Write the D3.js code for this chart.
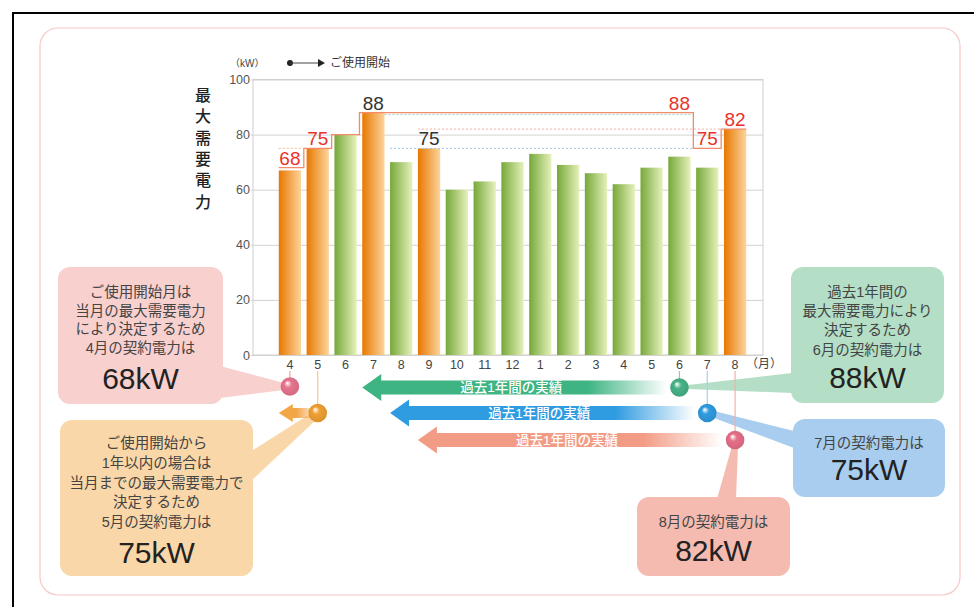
<!doctype html>
<html>
<head>
<meta charset="utf-8">
<script src="https://d3js.org/d3.v7.min.js"></script>
<style>
  body { margin: 0; background: #fff; }
  svg text { font-family: "Liberation Sans", "Noto Sans CJK JP", sans-serif; }
</style>
</head>
<body>
<svg width="974" height="607"></svg>
<script>
// monthly peak demand (kW), Apr of year 1 .. Aug of year 2
var months   = ["4","5","6","7","8","9","10","11","12","1","2","3","4","5","6","7","8"];
var demand   = [67, 75, 80, 88, 70, 75, 60, 63, 70, 73, 69, 66, 62, 68, 72, 68, 82];
var isOrange = [1, 1, 0, 1, 0, 1, 0, 0, 0, 0, 0, 0, 0, 0, 0, 0, 1];
// contract power per month (step line)
var contract = [68, 75, 80, 88, 88, 88, 88, 88, 88, 88, 88, 88, 88, 88, 88, 75, 82];
var yTicks   = [0, 20, 40, 60, 80, 100];
var peakIdx  = [0, 1, 3, 5, 14, 15, 16];
var peakVal  = [68, 75, 88, 75, 88, 75, 82];
var peakRed  = [1, 1, 0, 0, 1, 1, 1];
// "past year" arrows: from month index, to month index
var arrowFrom = [3, 4, 5];
var arrowTo   = [14, 15, 16];
var arrowText = "過去1年間の実績";

var noteLines = [
  ["ご使用開始月は", "当月の最大需要電力", "により決定するため", "4月の契約電力は"],
  ["ご使用開始から", "1年以内の場合は", "当月までの最大需要電力で", "決定するため", "5月の契約電力は"],
  ["過去1年間の", "最大需要電力により", "決定するため", "6月の契約電力は"],
  ["7月の契約電力は"],
  ["8月の契約電力は"]
];
var noteBig = ["68kW", "75kW", "88kW", "75kW", "82kW"];

var svg = d3.select("svg");
var defs = svg.append("defs");

// outer frame
svg.append("line").attr("x1", 12).attr("y1", 13).attr("x2", 974).attr("y2", 13).attr("stroke", "#000").attr("stroke-width", 2);
svg.append("line").attr("x1", 13).attr("y1", 12).attr("x2", 13).attr("y2", 607).attr("stroke", "#000").attr("stroke-width", 2);
svg.append("rect").attr("x", 40).attr("y", 28).attr("width", 920).attr("height", 567).attr("rx", 18)
   .attr("fill", "none").attr("stroke", "#f7c8c8").attr("stroke-width", 1.2);

var plotL = 253, plotR = 763;
var x = d3.scaleBand().domain(d3.range(months.length)).range([276, 749]).paddingInner(0.2).paddingOuter(0.1);
var y = d3.scaleLinear().domain([0, 100]).range([355, 79.5]);
var bw = x.bandwidth(), gap = x.step() - bw;

// gradients
function barGrad(id, c1, c2) {
  var g = defs.append("linearGradient").attr("id", id).attr("x1", 0).attr("x2", 1).attr("y1", 0).attr("y2", 0);
  g.append("stop").attr("offset", 0).attr("stop-color", c1);
  g.append("stop").attr("offset", 1).attr("stop-color", c2);
}
barGrad("gOrange", "#e87800", "#fcd49c");
barGrad("gGreen", "#76a838", "#e6f1bc");

function dotGrad(id, c) {
  var g = defs.append("radialGradient").attr("id", id).attr("cx", "50%").attr("cy", "50%").attr("r", "55%").attr("fx", "35%").attr("fy", "30%");
  g.append("stop").attr("offset", 0).attr("stop-color", "#fff").attr("stop-opacity", 0.8);
  g.append("stop").attr("offset", 0.35).attr("stop-color", c);
  g.append("stop").attr("offset", 1).attr("stop-color", d3.color(c).darker(0.3));
}

// plot frame + grid
svg.append("rect").attr("x", plotL).attr("y", y(100)).attr("width", plotR - plotL).attr("height", y(0) - y(100))
   .attr("fill", "none").attr("stroke", "#cfcfcf");

var yAxis = svg.append("g").attr("transform", "translate(" + plotL + ",0)")
   .call(d3.axisLeft(y).tickValues(yTicks).tickSize(-(plotR - plotL)).tickPadding(3));
yAxis.select(".domain").remove();
yAxis.selectAll("line").attr("stroke", "#d2d2d2").attr("x1", -2);
yAxis.selectAll("text").attr("fill", "#555").style("font-size", "12.5px");

var xAxis = svg.append("g").attr("transform", "translate(0," + y(0) + ")")
   .call(d3.axisBottom(x).tickSize(0).tickPadding(5).tickFormat(function(i) { return months[i]; }));
xAxis.select(".domain").remove();
xAxis.selectAll("text").attr("fill", "#444").style("font-size", "12.5px");
svg.append("text").attr("x", 746).attr("y", 368).attr("fill", "#444").style("font-size", "12px").text("（月）");

// unit + legend
svg.append("text").attr("x", 230).attr("y", 67).attr("fill", "#444").style("font-size", "10px").text("（kW）");
svg.append("circle").attr("cx", 290).attr("cy", 63).attr("r", 3).attr("fill", "#222");
svg.append("line").attr("x1", 290).attr("y1", 63).attr("x2", 318).attr("y2", 63).attr("stroke", "#444");
svg.append("path").attr("d", "M318,59 L325,63 L318,67 Z").attr("fill", "#222");
svg.append("text").attr("x", 330).attr("y", 67).attr("fill", "#333").style("font-size", "12px").text("ご使用開始");

// vertical y title
svg.append("g").selectAll("text").data("最大需要電力".split("")).enter().append("text")
   .attr("x", 203).attr("y", function(d, i) { return 101 + i * 21.3; })
   .attr("text-anchor", "middle").attr("fill", "#222").style("font-size", "16px").style("font-weight", "500")
   .text(function(d) { return d; });

// bars
svg.append("g").selectAll("rect").data(demand).enter().append("rect")
   .attr("x", function(d, i) { return x(i); })
   .attr("y", function(d) { return y(d); })
   .attr("width", bw)
   .attr("height", function(d) { return y(0) - y(d); })
   .attr("fill", function(d, i) { return isOrange[i] ? "url(#gOrange)" : "url(#gGreen)"; });

// dotted reference lines
function dotted(x1, x2, v, c, dy) {
  svg.append("line").attr("x1", x1).attr("x2", x2).attr("y1", y(v) + (dy || 0)).attr("y2", y(v) + (dy || 0))
     .attr("stroke", c).attr("stroke-width", 1).attr("stroke-dasharray", "2,2");
}
dotted(x(0), x(0) + bw, 75, "#f8bf8c");
dotted(x(3) + bw, x(14) + bw + gap / 2, 88, "#9ed3c0", 2);
dotted(x(4), x(15) + bw + gap / 2, 75, "#9cc6ee");
dotted(x(5), x(15) + bw + gap / 2, 82, "#f5aea4");

// contract step line
var stepPts = [];
contract.forEach(function(c, i) {
  stepPts.push([i === 0 ? x(i) : x(i) - gap / 2, y(c)]);
  stepPts.push([i === contract.length - 1 ? x(i) + bw : x(i) + bw + gap / 2, y(c)]);
});
svg.append("path").attr("d", d3.line()(stepPts)).attr("fill", "none").attr("stroke", "#f58a6a").attr("stroke-width", 1.3);

// peak labels
svg.append("g").selectAll("text").data(peakIdx).enter().append("text")
   .attr("x", function(d) { return x(d) + bw / 2; })
   .attr("y", function(d, i) { return y(peakVal[i]) - 3; })
   .attr("text-anchor", "middle").style("font-size", "19px")
   .attr("fill", function(d, i) { return peakRed[i] ? "#e8332b" : "#333"; })
   .text(function(d, i) { return peakVal[i]; });

// callout boxes
function note(k, bx, by, bwid, bht, fill, lineY, step, bigY) {
  var g = svg.append("g");
  g.append("rect").attr("x", bx).attr("y", by).attr("width", bwid).attr("height", bht).attr("rx", 12).attr("fill", fill);
  noteLines[k].forEach(function(t, j) {
    g.append("text").attr("x", bx + bwid / 2).attr("y", lineY + j * step).attr("text-anchor", "middle")
     .attr("fill", "#444").style("font-size", "14.5px").text(t);
  });
  g.append("text").attr("x", bx + bwid / 2).attr("y", bigY).attr("text-anchor", "middle")
   .attr("fill", "#222").style("font-size", "30px").text(noteBig[k]);
}
function tail(pts, fill) {
  svg.append("path").attr("d", "M" + pts.join("L") + "Z").attr("fill", fill);
}

tail([[220, 366], [220, 398], [284, 390], [284, 383]], "#f8d0ce");
tail([[250, 452], [250, 482], [317, 419], [313, 412]], "#f9d7a8");
tail([[688, 385], [688, 389], [792, 393], [792, 373]], "#b4dfc6");
tail([[714, 411], [714, 418], [794, 448], [794, 431]], "#a8cdee");
tail([[732, 446], [738, 446], [736, 499], [717, 499]], "#f5bbb0");

note(0, 58, 267, 165, 137, "#f8d0ce", 297, 18.7, 389);
note(1, 60, 420, 193, 156, "#f9d7a8", 448, 19.8, 563);
note(2, 791, 267, 153, 136, "#b4dfc6", 297, 19.2, 388);
note(3, 793, 419, 152, 78, "#a8cdee", 448, 0, 480);
note(4, 637, 497, 153, 79, "#f5bbb0", 527, 0, 561);

// past-year arrows
var arrowColor = ["#3db482", "#2f9be0", "#f29c86"];
var arrowY     = [387.5, 413, 440];
arrowFrom.forEach(function(f, k) {
  var tip = x(f), end = x(arrowTo[k]) + bw / 2, cy = arrowY[k], len = end - tip;
  var g = defs.append("linearGradient").attr("id", "ga" + k).attr("gradientUnits", "userSpaceOnUse")
     .attr("x1", tip).attr("x2", end).attr("y1", 0).attr("y2", 0);
  g.append("stop").attr("offset", 0.71).attr("stop-color", arrowColor[k]);
  g.append("stop").attr("offset", 0.96).attr("stop-color", arrowColor[k]).attr("stop-opacity", 0);
  svg.append("path")
     .attr("d", "M" + tip + "," + cy + "L" + (tip + 19) + "," + (cy - 13.5) + "L" + (tip + 19) + "," + (cy - 7) +
                "L" + end + "," + (cy - 7) + "L" + end + "," + (cy + 7) + "L" + (tip + 19) + "," + (cy + 7) +
                "L" + (tip + 19) + "," + (cy + 13.5) + "Z")
     .attr("fill", "url(#ga" + k + ")");
  svg.append("text").attr("x", tip + len * 0.47).attr("y", cy + 4.5).attr("text-anchor", "middle")
     .attr("fill", "#fff").style("font-size", "13.5px").style("font-weight", "500").text(arrowText);
});

// small orange arrow (start month)
var og = defs.append("linearGradient").attr("id", "gaO").attr("gradientUnits", "userSpaceOnUse")
   .attr("x1", x(0)).attr("x2", x(1) + bw / 2).attr("y1", 0).attr("y2", 0);
og.append("stop").attr("offset", 0.45).attr("stop-color", "#f3a646");
og.append("stop").attr("offset", 0.95).attr("stop-color", "#f3a646").attr("stop-opacity", 0.15);
var ot = x(0), oe = x(1) + bw / 2, oy = 413;
svg.append("path")
   .attr("d", "M" + ot + "," + oy + "L" + (ot + 14) + "," + (oy - 9) + "L" + (ot + 14) + "," + (oy - 5) +
              "L" + oe + "," + (oy - 5) + "L" + oe + "," + (oy + 5) + "L" + (ot + 14) + "," + (oy + 5) +
              "L" + (ot + 14) + "," + (oy + 9) + "Z")
   .attr("fill", "url(#gaO)");

// connectors from month labels to dots
function conn(i, y1, y2, c) {
  svg.append("line").attr("x1", x(i) + bw / 2).attr("x2", x(i) + bw / 2).attr("y1", y1).attr("y2", y2)
     .attr("stroke", c).attr("stroke-width", 1.2);
}
conn(0, 371, 380, "#f4a0b0");
conn(1, 371, 406, "#f8c393");
conn(14, 371, 380, "#86cfae");
conn(15, 371, 406, "#a6ccef");
conn(16, 371, 446, "#f5b0a6");

// dots
var dotIdx = [0, 1, 14, 15, 16];
var dotY   = [386.5, 413, 387.5, 413, 440];
var dotCol = ["#e8758f", "#f0a033", "#46b386", "#2f9ce0", "#e66f89"];
dotIdx.forEach(function(i, k) {
  dotGrad("gd" + k, dotCol[k]);
  svg.append("circle").attr("cx", x(i) + bw / 2).attr("cy", dotY[k]).attr("r", 9.3).attr("fill", "url(#gd" + k + ")");
});
</script>
</body>
</html>
